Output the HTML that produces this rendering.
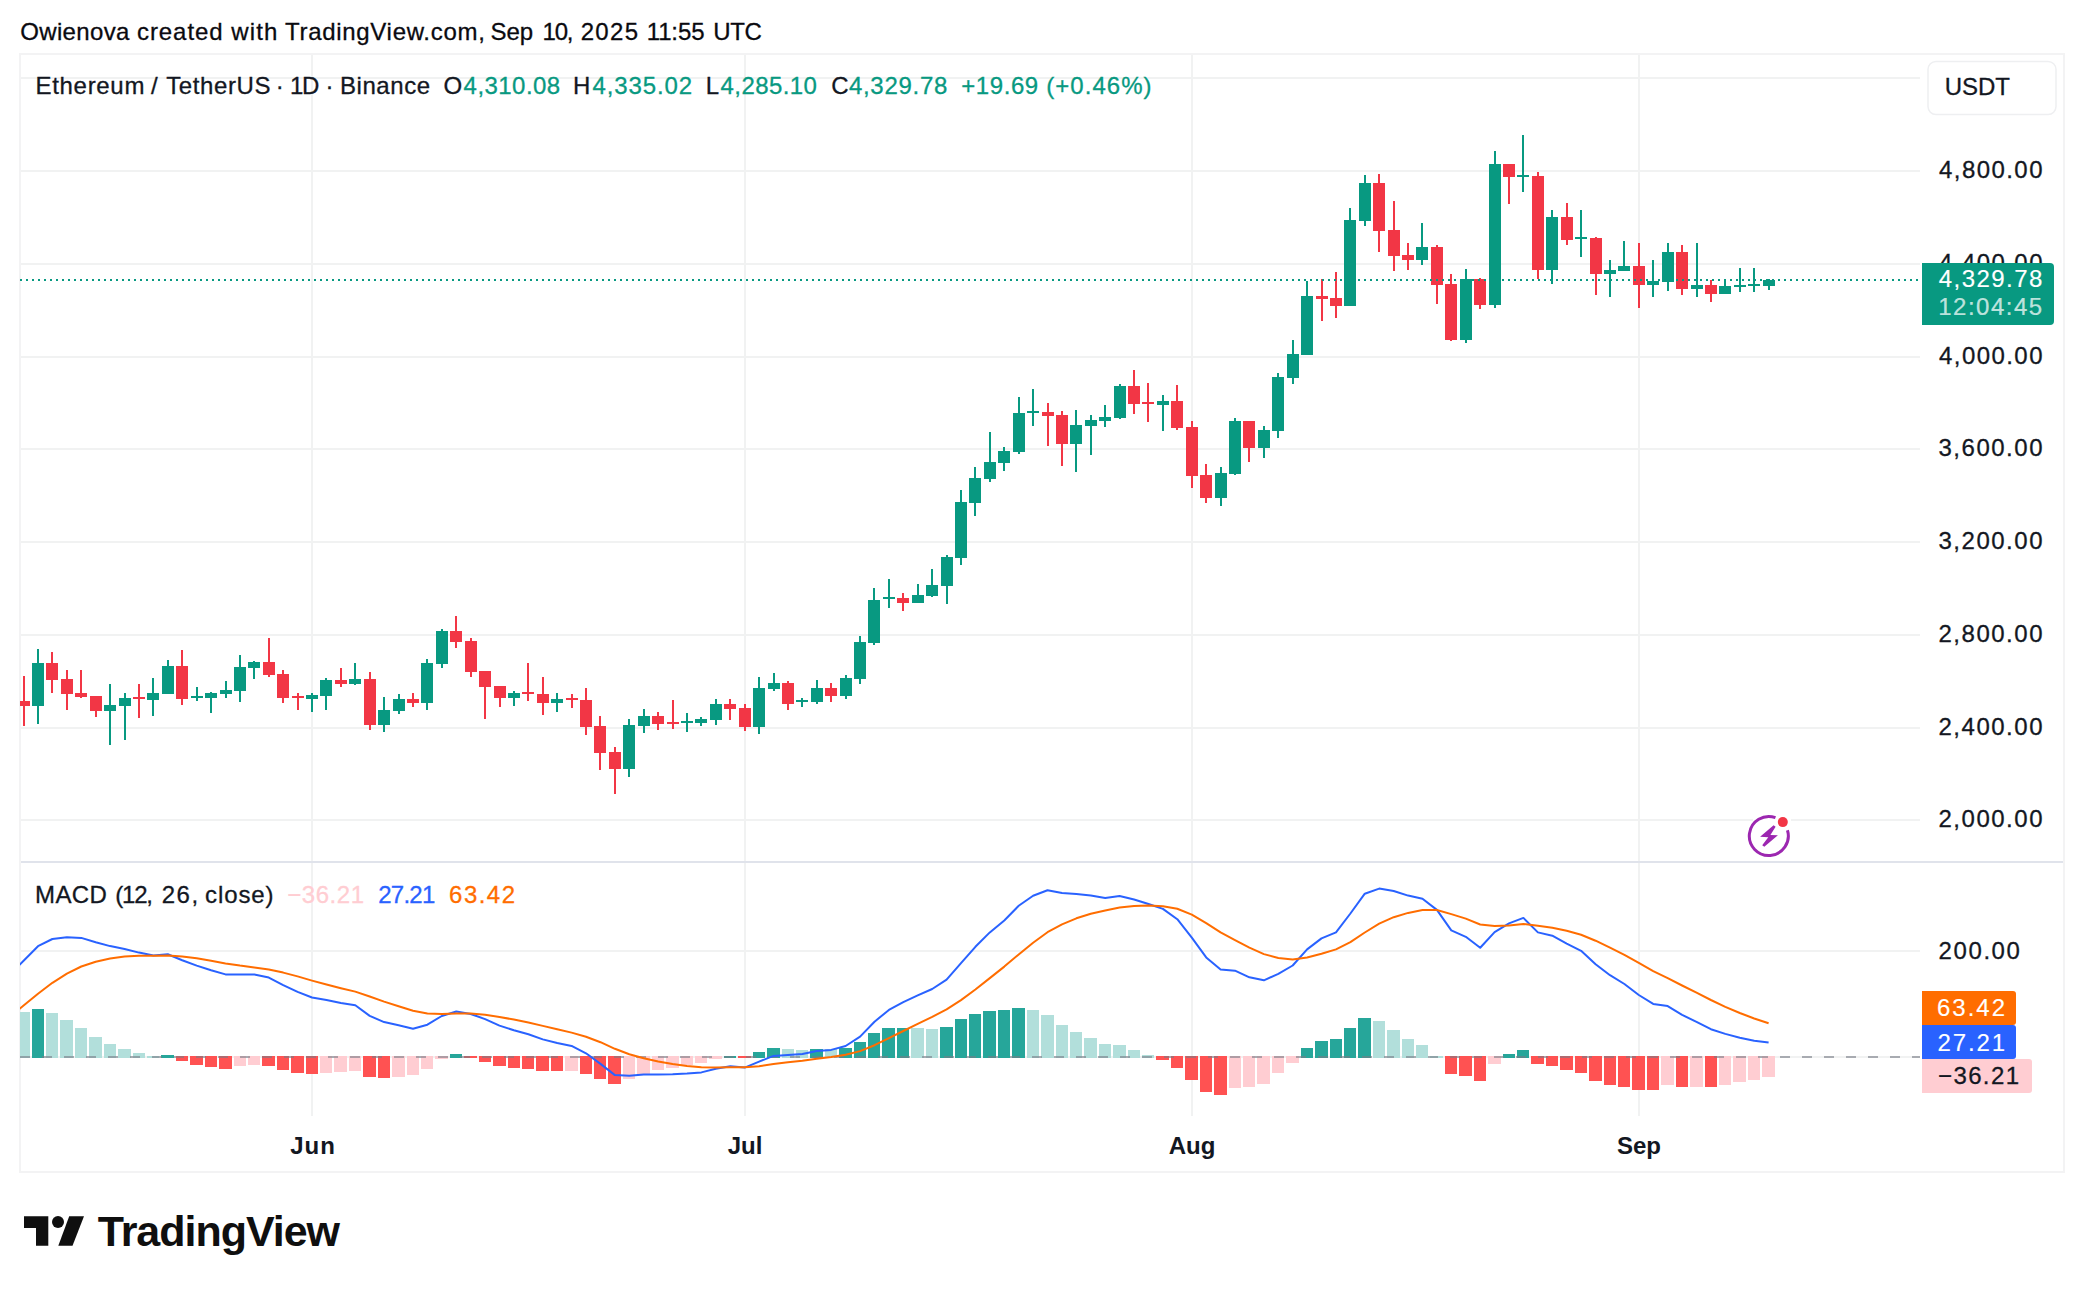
<!DOCTYPE html><html><head><meta charset="utf-8"><title>ETHUSDT chart</title>
<style>html,body{margin:0;padding:0;background:#fff}svg{display:block}text{font-family:"Liberation Sans",Arial,sans-serif}</style></head><body>
<svg width="2084" height="1292" viewBox="0 0 2084 1292">
<rect width="2084" height="1292" fill="#fff"/>
<g fill="#F1F2F2" shape-rendering="crispEdges">
<rect x="21" y="77" width="1899" height="2"/>
<rect x="21" y="170" width="1899" height="2"/>
<rect x="21" y="263" width="1899" height="2"/>
<rect x="21" y="356" width="1899" height="2"/>
<rect x="21" y="448" width="1899" height="2"/>
<rect x="21" y="541" width="1899" height="2"/>
<rect x="21" y="634" width="1899" height="2"/>
<rect x="21" y="727" width="1899" height="2"/>
<rect x="21" y="819" width="1899" height="2"/>
<rect x="21" y="950" width="1899" height="2"/>
<rect x="21" y="1056" width="1899" height="2"/>
<rect x="311" y="55" width="2" height="1061"/>
<rect x="744" y="55" width="2" height="1061"/>
<rect x="1191" y="55" width="2" height="1061"/>
<rect x="1638" y="55" width="2" height="1061"/>
</g>
<g fill="#F3F3F4" shape-rendering="crispEdges"><rect x="19" y="53" width="2046" height="2"/><rect x="19" y="1171" width="2046" height="2"/><rect x="19" y="53" width="2" height="1120"/><rect x="2063" y="53" width="2" height="1120"/></g>
<rect x="21" y="861" width="2042" height="2" fill="#E0E3EB" shape-rendering="crispEdges"/>
<defs><clipPath id="cp"><rect x="20" y="55" width="1902" height="1061"/></clipPath></defs>
<g clip-path="url(#cp)">
<g shape-rendering="crispEdges">
<rect x="17" y="1012" width="13" height="46" fill="#B2DFDB"/>
<rect x="32" y="1009" width="12" height="49" fill="#26A69A"/>
<rect x="46" y="1013" width="12" height="45" fill="#B2DFDB"/>
<rect x="60" y="1020" width="13" height="38" fill="#B2DFDB"/>
<rect x="75" y="1028" width="12" height="30" fill="#B2DFDB"/>
<rect x="89" y="1037" width="13" height="21" fill="#B2DFDB"/>
<rect x="104" y="1044" width="12" height="14" fill="#B2DFDB"/>
<rect x="118" y="1049" width="13" height="9" fill="#B2DFDB"/>
<rect x="133" y="1053" width="12" height="5" fill="#B2DFDB"/>
<rect x="147" y="1056" width="12" height="2" fill="#B2DFDB"/>
<rect x="161" y="1055" width="13" height="3" fill="#26A69A"/>
<rect x="176" y="1056" width="12" height="5" fill="#FF5252"/>
<rect x="190" y="1056" width="13" height="9" fill="#FF5252"/>
<rect x="205" y="1056" width="12" height="11" fill="#FF5252"/>
<rect x="219" y="1056" width="13" height="13" fill="#FF5252"/>
<rect x="234" y="1056" width="12" height="10" fill="#FFCDD2"/>
<rect x="248" y="1056" width="12" height="9" fill="#FFCDD2"/>
<rect x="262" y="1056" width="13" height="10" fill="#FF5252"/>
<rect x="277" y="1056" width="12" height="14" fill="#FF5252"/>
<rect x="291" y="1056" width="13" height="17" fill="#FF5252"/>
<rect x="306" y="1056" width="12" height="18" fill="#FF5252"/>
<rect x="320" y="1056" width="12" height="17" fill="#FFCDD2"/>
<rect x="334" y="1056" width="13" height="16" fill="#FFCDD2"/>
<rect x="349" y="1056" width="12" height="15" fill="#FFCDD2"/>
<rect x="363" y="1056" width="13" height="21" fill="#FF5252"/>
<rect x="378" y="1056" width="12" height="22" fill="#FF5252"/>
<rect x="392" y="1056" width="13" height="21" fill="#FFCDD2"/>
<rect x="407" y="1056" width="12" height="19" fill="#FFCDD2"/>
<rect x="421" y="1056" width="12" height="13" fill="#FFCDD2"/>
<rect x="435" y="1056" width="13" height="3" fill="#FFCDD2"/>
<rect x="450" y="1054" width="12" height="4" fill="#26A69A"/>
<rect x="464" y="1056" width="13" height="2" fill="#FF5252"/>
<rect x="479" y="1056" width="12" height="6" fill="#FF5252"/>
<rect x="493" y="1056" width="13" height="10" fill="#FF5252"/>
<rect x="508" y="1056" width="12" height="12" fill="#FF5252"/>
<rect x="522" y="1056" width="12" height="13" fill="#FF5252"/>
<rect x="536" y="1056" width="13" height="15" fill="#FF5252"/>
<rect x="551" y="1056" width="12" height="15" fill="#FF5252"/>
<rect x="565" y="1056" width="13" height="15" fill="#FFCDD2"/>
<rect x="580" y="1056" width="12" height="18" fill="#FF5252"/>
<rect x="594" y="1056" width="12" height="23" fill="#FF5252"/>
<rect x="608" y="1056" width="13" height="28" fill="#FF5252"/>
<rect x="623" y="1056" width="12" height="23" fill="#FFCDD2"/>
<rect x="637" y="1056" width="13" height="18" fill="#FFCDD2"/>
<rect x="652" y="1056" width="12" height="14" fill="#FFCDD2"/>
<rect x="666" y="1056" width="13" height="12" fill="#FFCDD2"/>
<rect x="681" y="1056" width="12" height="9" fill="#FFCDD2"/>
<rect x="695" y="1056" width="12" height="7" fill="#FFCDD2"/>
<rect x="709" y="1056" width="13" height="3" fill="#FFCDD2"/>
<rect x="724" y="1056" width="12" height="2" fill="#26A69A"/>
<rect x="738" y="1056" width="13" height="2" fill="#FF5252"/>
<rect x="753" y="1052" width="12" height="6" fill="#26A69A"/>
<rect x="767" y="1048" width="13" height="10" fill="#26A69A"/>
<rect x="782" y="1049" width="12" height="9" fill="#B2DFDB"/>
<rect x="796" y="1050" width="12" height="8" fill="#B2DFDB"/>
<rect x="810" y="1049" width="13" height="9" fill="#26A69A"/>
<rect x="825" y="1049" width="12" height="9" fill="#B2DFDB"/>
<rect x="839" y="1048" width="13" height="10" fill="#26A69A"/>
<rect x="854" y="1042" width="12" height="16" fill="#26A69A"/>
<rect x="868" y="1033" width="12" height="25" fill="#26A69A"/>
<rect x="882" y="1028" width="13" height="30" fill="#26A69A"/>
<rect x="897" y="1028" width="12" height="30" fill="#26A69A"/>
<rect x="911" y="1028" width="13" height="30" fill="#B2DFDB"/>
<rect x="926" y="1029" width="12" height="29" fill="#B2DFDB"/>
<rect x="940" y="1027" width="13" height="31" fill="#26A69A"/>
<rect x="955" y="1019" width="12" height="39" fill="#26A69A"/>
<rect x="969" y="1014" width="12" height="44" fill="#26A69A"/>
<rect x="983" y="1011" width="13" height="47" fill="#26A69A"/>
<rect x="998" y="1010" width="12" height="48" fill="#26A69A"/>
<rect x="1012" y="1008" width="13" height="50" fill="#26A69A"/>
<rect x="1027" y="1010" width="12" height="48" fill="#B2DFDB"/>
<rect x="1041" y="1015" width="13" height="43" fill="#B2DFDB"/>
<rect x="1056" y="1025" width="12" height="33" fill="#B2DFDB"/>
<rect x="1070" y="1032" width="12" height="26" fill="#B2DFDB"/>
<rect x="1084" y="1038" width="13" height="20" fill="#B2DFDB"/>
<rect x="1099" y="1044" width="12" height="14" fill="#B2DFDB"/>
<rect x="1113" y="1045" width="13" height="13" fill="#B2DFDB"/>
<rect x="1128" y="1050" width="12" height="8" fill="#B2DFDB"/>
<rect x="1142" y="1055" width="12" height="3" fill="#B2DFDB"/>
<rect x="1156" y="1056" width="13" height="4" fill="#FF5252"/>
<rect x="1171" y="1056" width="12" height="12" fill="#FF5252"/>
<rect x="1185" y="1056" width="13" height="24" fill="#FF5252"/>
<rect x="1200" y="1056" width="12" height="36" fill="#FF5252"/>
<rect x="1214" y="1056" width="13" height="39" fill="#FF5252"/>
<rect x="1229" y="1056" width="12" height="32" fill="#FFCDD2"/>
<rect x="1243" y="1056" width="12" height="31" fill="#FFCDD2"/>
<rect x="1257" y="1056" width="13" height="28" fill="#FFCDD2"/>
<rect x="1272" y="1056" width="12" height="17" fill="#FFCDD2"/>
<rect x="1286" y="1056" width="13" height="7" fill="#FFCDD2"/>
<rect x="1301" y="1048" width="12" height="10" fill="#26A69A"/>
<rect x="1315" y="1041" width="13" height="17" fill="#26A69A"/>
<rect x="1330" y="1039" width="12" height="19" fill="#26A69A"/>
<rect x="1344" y="1028" width="12" height="30" fill="#26A69A"/>
<rect x="1358" y="1018" width="13" height="40" fill="#26A69A"/>
<rect x="1373" y="1021" width="12" height="37" fill="#B2DFDB"/>
<rect x="1387" y="1030" width="13" height="28" fill="#B2DFDB"/>
<rect x="1402" y="1039" width="12" height="19" fill="#B2DFDB"/>
<rect x="1416" y="1045" width="12" height="13" fill="#B2DFDB"/>
<rect x="1430" y="1056" width="13" height="2" fill="#B2DFDB"/>
<rect x="1445" y="1056" width="12" height="18" fill="#FF5252"/>
<rect x="1459" y="1056" width="13" height="20" fill="#FF5252"/>
<rect x="1474" y="1056" width="12" height="25" fill="#FF5252"/>
<rect x="1488" y="1056" width="13" height="8" fill="#FFCDD2"/>
<rect x="1503" y="1054" width="12" height="4" fill="#26A69A"/>
<rect x="1517" y="1050" width="12" height="8" fill="#26A69A"/>
<rect x="1531" y="1056" width="13" height="8" fill="#FF5252"/>
<rect x="1546" y="1056" width="12" height="10" fill="#FF5252"/>
<rect x="1560" y="1056" width="13" height="14" fill="#FF5252"/>
<rect x="1575" y="1056" width="12" height="17" fill="#FF5252"/>
<rect x="1589" y="1056" width="13" height="25" fill="#FF5252"/>
<rect x="1604" y="1056" width="12" height="29" fill="#FF5252"/>
<rect x="1618" y="1056" width="12" height="31" fill="#FF5252"/>
<rect x="1632" y="1056" width="13" height="34" fill="#FF5252"/>
<rect x="1647" y="1056" width="12" height="34" fill="#FF5252"/>
<rect x="1661" y="1056" width="13" height="29" fill="#FFCDD2"/>
<rect x="1676" y="1056" width="12" height="31" fill="#FF5252"/>
<rect x="1690" y="1056" width="13" height="31" fill="#FFCDD2"/>
<rect x="1705" y="1056" width="12" height="31" fill="#FF5252"/>
<rect x="1719" y="1056" width="12" height="29" fill="#FFCDD2"/>
<rect x="1733" y="1056" width="13" height="26" fill="#FFCDD2"/>
<rect x="1748" y="1056" width="12" height="24" fill="#FFCDD2"/>
<rect x="1762" y="1056" width="13" height="21" fill="#FFCDD2"/>
</g>
<g fill="#787B86" fill-opacity="0.6" shape-rendering="crispEdges">
<rect x="20" y="1056" width="10" height="2"/>
<rect x="42" y="1056" width="10" height="2"/>
<rect x="64" y="1056" width="10" height="2"/>
<rect x="86" y="1056" width="10" height="2"/>
<rect x="108" y="1056" width="10" height="2"/>
<rect x="130" y="1056" width="10" height="2"/>
<rect x="152" y="1056" width="10" height="2"/>
<rect x="174" y="1056" width="10" height="2"/>
<rect x="196" y="1056" width="10" height="2"/>
<rect x="218" y="1056" width="10" height="2"/>
<rect x="240" y="1056" width="10" height="2"/>
<rect x="262" y="1056" width="10" height="2"/>
<rect x="284" y="1056" width="10" height="2"/>
<rect x="306" y="1056" width="10" height="2"/>
<rect x="328" y="1056" width="10" height="2"/>
<rect x="350" y="1056" width="10" height="2"/>
<rect x="372" y="1056" width="10" height="2"/>
<rect x="394" y="1056" width="10" height="2"/>
<rect x="416" y="1056" width="10" height="2"/>
<rect x="438" y="1056" width="10" height="2"/>
<rect x="460" y="1056" width="10" height="2"/>
<rect x="482" y="1056" width="10" height="2"/>
<rect x="504" y="1056" width="10" height="2"/>
<rect x="526" y="1056" width="10" height="2"/>
<rect x="548" y="1056" width="10" height="2"/>
<rect x="570" y="1056" width="10" height="2"/>
<rect x="592" y="1056" width="10" height="2"/>
<rect x="614" y="1056" width="10" height="2"/>
<rect x="636" y="1056" width="10" height="2"/>
<rect x="658" y="1056" width="10" height="2"/>
<rect x="680" y="1056" width="10" height="2"/>
<rect x="702" y="1056" width="10" height="2"/>
<rect x="724" y="1056" width="10" height="2"/>
<rect x="746" y="1056" width="10" height="2"/>
<rect x="768" y="1056" width="10" height="2"/>
<rect x="790" y="1056" width="10" height="2"/>
<rect x="812" y="1056" width="10" height="2"/>
<rect x="834" y="1056" width="10" height="2"/>
<rect x="856" y="1056" width="10" height="2"/>
<rect x="878" y="1056" width="10" height="2"/>
<rect x="900" y="1056" width="10" height="2"/>
<rect x="922" y="1056" width="10" height="2"/>
<rect x="944" y="1056" width="10" height="2"/>
<rect x="966" y="1056" width="10" height="2"/>
<rect x="988" y="1056" width="10" height="2"/>
<rect x="1010" y="1056" width="10" height="2"/>
<rect x="1032" y="1056" width="10" height="2"/>
<rect x="1054" y="1056" width="10" height="2"/>
<rect x="1076" y="1056" width="10" height="2"/>
<rect x="1098" y="1056" width="10" height="2"/>
<rect x="1120" y="1056" width="10" height="2"/>
<rect x="1142" y="1056" width="10" height="2"/>
<rect x="1164" y="1056" width="10" height="2"/>
<rect x="1186" y="1056" width="10" height="2"/>
<rect x="1208" y="1056" width="10" height="2"/>
<rect x="1230" y="1056" width="10" height="2"/>
<rect x="1252" y="1056" width="10" height="2"/>
<rect x="1274" y="1056" width="10" height="2"/>
<rect x="1296" y="1056" width="10" height="2"/>
<rect x="1318" y="1056" width="10" height="2"/>
<rect x="1340" y="1056" width="10" height="2"/>
<rect x="1362" y="1056" width="10" height="2"/>
<rect x="1384" y="1056" width="10" height="2"/>
<rect x="1406" y="1056" width="10" height="2"/>
<rect x="1428" y="1056" width="10" height="2"/>
<rect x="1450" y="1056" width="10" height="2"/>
<rect x="1472" y="1056" width="10" height="2"/>
<rect x="1494" y="1056" width="10" height="2"/>
<rect x="1516" y="1056" width="10" height="2"/>
<rect x="1538" y="1056" width="10" height="2"/>
<rect x="1560" y="1056" width="10" height="2"/>
<rect x="1582" y="1056" width="10" height="2"/>
<rect x="1604" y="1056" width="10" height="2"/>
<rect x="1626" y="1056" width="10" height="2"/>
<rect x="1648" y="1056" width="10" height="2"/>
<rect x="1670" y="1056" width="10" height="2"/>
<rect x="1692" y="1056" width="10" height="2"/>
<rect x="1714" y="1056" width="10" height="2"/>
<rect x="1736" y="1056" width="10" height="2"/>
<rect x="1758" y="1056" width="10" height="2"/>
<rect x="1780" y="1056" width="10" height="2"/>
<rect x="1802" y="1056" width="10" height="2"/>
<rect x="1824" y="1056" width="10" height="2"/>
<rect x="1846" y="1056" width="10" height="2"/>
<rect x="1868" y="1056" width="10" height="2"/>
<rect x="1890" y="1056" width="10" height="2"/>
<rect x="1912" y="1056" width="8" height="2"/>
</g>
<path d="M9.2 975.3L23.6 960.7L38.0 946.2L52.4 939.0L66.9 937.3L81.3 937.9L95.7 942.2L110.1 946.1L124.6 949.0L139.0 952.6L153.4 955.6L167.8 954.3L182.2 960.2L196.7 965.6L211.1 970.3L225.5 974.4L239.9 974.4L254.3 974.4L268.8 977.6L283.2 985.1L297.6 991.9L312.0 997.5L326.5 999.9L340.9 1003.0L355.3 1005.3L369.7 1015.9L384.1 1022.1L398.6 1025.3L413.0 1028.8L427.4 1024.7L441.8 1016.0L456.3 1011.5L470.7 1014.0L485.1 1019.1L499.5 1025.6L513.9 1030.3L528.4 1034.3L542.8 1039.4L557.2 1043.0L571.6 1045.9L586.0 1053.3L600.5 1063.9L614.9 1075.1L629.3 1075.7L643.7 1074.4L658.2 1074.4L672.6 1074.2L687.0 1073.5L701.4 1072.4L715.8 1068.7L730.3 1066.3L744.7 1067.6L759.1 1061.6L773.5 1055.9L787.9 1055.1L802.4 1054.0L816.8 1050.9L831.2 1049.9L845.6 1046.0L860.1 1036.6L874.5 1021.7L888.9 1009.9L903.3 1002.1L917.7 995.4L932.2 989.0L946.6 979.6L961.0 963.1L975.4 946.8L989.8 932.4L1004.3 920.5L1018.7 905.8L1033.1 895.7L1047.5 890.3L1062.0 893.1L1076.4 893.9L1090.8 895.4L1105.2 897.9L1119.6 896.0L1134.1 899.5L1148.5 904.0L1162.9 908.9L1177.3 919.2L1191.8 937.6L1206.2 957.4L1220.6 969.6L1235.0 970.7L1249.4 977.3L1263.9 980.3L1278.3 973.8L1292.7 965.5L1307.1 949.4L1321.5 938.4L1336.0 932.4L1350.4 913.5L1364.8 893.7L1379.2 888.6L1393.7 891.0L1408.1 895.6L1422.5 898.8L1436.9 909.9L1451.3 930.3L1465.8 936.8L1480.2 947.8L1494.6 932.1L1509.0 923.4L1523.4 917.9L1537.9 932.4L1552.3 935.7L1566.7 943.6L1581.1 950.8L1595.6 964.2L1610.0 975.2L1624.4 984.0L1638.8 995.0L1653.2 1003.9L1667.7 1006.1L1682.1 1014.9L1696.5 1021.8L1710.9 1029.2L1725.3 1033.9L1739.8 1037.7L1754.2 1040.7L1768.6 1042.5" fill="none" stroke="#2962FF" stroke-width="2" stroke-linejoin="round"/>
<path d="M9.2 1017.4L23.6 1005.6L38.0 993.7L52.4 982.8L66.9 973.7L81.3 966.5L95.7 961.7L110.1 958.5L124.6 956.6L139.0 955.8L153.4 955.8L167.8 955.5L182.2 956.4L196.7 958.3L211.1 960.7L225.5 963.4L239.9 965.6L254.3 967.4L268.8 969.4L283.2 972.6L297.6 976.4L312.0 980.6L326.5 984.5L340.9 988.2L355.3 991.6L369.7 996.5L384.1 1001.6L398.6 1006.3L413.0 1010.8L427.4 1013.6L441.8 1014.1L456.3 1013.6L470.7 1013.6L485.1 1014.7L499.5 1016.9L513.9 1019.6L528.4 1022.5L542.8 1025.9L557.2 1029.3L571.6 1032.6L586.0 1036.8L600.5 1042.2L614.9 1048.8L629.3 1054.2L643.7 1058.2L658.2 1061.4L672.6 1064.0L687.0 1065.9L701.4 1067.2L715.8 1067.5L730.3 1067.3L744.7 1067.3L759.1 1066.2L773.5 1064.1L787.9 1062.3L802.4 1060.7L816.8 1058.7L831.2 1057.0L845.6 1054.8L860.1 1051.1L874.5 1045.2L888.9 1038.2L903.3 1031.0L917.7 1023.9L932.2 1016.9L946.6 1009.4L961.0 1000.1L975.4 989.5L989.8 978.1L1004.3 966.6L1018.7 954.4L1033.1 942.7L1047.5 932.2L1062.0 924.4L1076.4 918.3L1090.8 913.7L1105.2 910.5L1119.6 907.6L1134.1 906.0L1148.5 905.6L1162.9 906.3L1177.3 908.8L1191.8 914.6L1206.2 923.1L1220.6 932.4L1235.0 940.1L1249.4 947.6L1263.9 954.1L1278.3 958.0L1292.7 959.5L1307.1 957.5L1321.5 953.7L1336.0 949.4L1350.4 942.2L1364.8 932.5L1379.2 923.7L1393.7 917.2L1408.1 912.9L1422.5 910.1L1436.9 910.0L1451.3 914.1L1465.8 918.6L1480.2 924.5L1494.6 926.0L1509.0 925.5L1523.4 924.0L1537.9 925.7L1552.3 927.7L1566.7 930.8L1581.1 934.8L1595.6 940.7L1610.0 947.6L1624.4 954.9L1638.8 962.9L1653.2 971.1L1667.7 978.1L1682.1 985.5L1696.5 992.7L1710.9 1000.0L1725.3 1006.8L1739.8 1013.0L1754.2 1018.5L1768.6 1023.3" fill="none" stroke="#FF6D00" stroke-width="2" stroke-linejoin="round"/>
<g fill="#089981" shape-rendering="crispEdges">
</g>
<g shape-rendering="crispEdges">
<rect x="23" y="676" width="2" height="50" fill="#F23645"/><rect x="18" y="701" width="12" height="5" fill="#F23645"/>
<rect x="37" y="649" width="2" height="75" fill="#089981"/><rect x="32" y="663" width="12" height="43" fill="#089981"/>
<rect x="51" y="652" width="2" height="41" fill="#F23645"/><rect x="46" y="663" width="12" height="17" fill="#F23645"/>
<rect x="66" y="670" width="2" height="40" fill="#F23645"/><rect x="61" y="679" width="12" height="15" fill="#F23645"/>
<rect x="80" y="670" width="2" height="28" fill="#F23645"/><rect x="75" y="693" width="12" height="4" fill="#F23645"/>
<rect x="95" y="696" width="2" height="21" fill="#F23645"/><rect x="90" y="696" width="12" height="15" fill="#F23645"/>
<rect x="109" y="684" width="2" height="61" fill="#089981"/><rect x="104" y="705" width="12" height="6" fill="#089981"/>
<rect x="124" y="693" width="2" height="47" fill="#089981"/><rect x="119" y="698" width="12" height="8" fill="#089981"/>
<rect x="138" y="684" width="2" height="34" fill="#F23645"/><rect x="133" y="697" width="12" height="2" fill="#F23645"/>
<rect x="152" y="678" width="2" height="38" fill="#089981"/><rect x="147" y="693" width="12" height="7" fill="#089981"/>
<rect x="167" y="660" width="2" height="34" fill="#089981"/><rect x="162" y="666" width="12" height="28" fill="#089981"/>
<rect x="181" y="650" width="2" height="55" fill="#F23645"/><rect x="176" y="666" width="12" height="33" fill="#F23645"/>
<rect x="196" y="687" width="2" height="14" fill="#089981"/><rect x="191" y="696" width="12" height="2" fill="#089981"/>
<rect x="210" y="692" width="2" height="21" fill="#089981"/><rect x="205" y="693" width="12" height="5" fill="#089981"/>
<rect x="225" y="681" width="2" height="17" fill="#089981"/><rect x="220" y="690" width="12" height="4" fill="#089981"/>
<rect x="239" y="655" width="2" height="47" fill="#089981"/><rect x="234" y="667" width="12" height="24" fill="#089981"/>
<rect x="253" y="661" width="2" height="18" fill="#089981"/><rect x="248" y="662" width="12" height="6" fill="#089981"/>
<rect x="268" y="638" width="2" height="39" fill="#F23645"/><rect x="263" y="662" width="12" height="13" fill="#F23645"/>
<rect x="282" y="670" width="2" height="33" fill="#F23645"/><rect x="277" y="674" width="12" height="24" fill="#F23645"/>
<rect x="297" y="693" width="2" height="17" fill="#F23645"/><rect x="292" y="696" width="12" height="2" fill="#F23645"/>
<rect x="311" y="693" width="2" height="19" fill="#089981"/><rect x="306" y="695" width="12" height="4" fill="#089981"/>
<rect x="325" y="678" width="2" height="32" fill="#089981"/><rect x="320" y="680" width="12" height="16" fill="#089981"/>
<rect x="340" y="668" width="2" height="19" fill="#F23645"/><rect x="335" y="680" width="12" height="4" fill="#F23645"/>
<rect x="354" y="663" width="2" height="22" fill="#089981"/><rect x="349" y="679" width="12" height="5" fill="#089981"/>
<rect x="369" y="672" width="2" height="58" fill="#F23645"/><rect x="364" y="679" width="12" height="46" fill="#F23645"/>
<rect x="383" y="697" width="2" height="35" fill="#089981"/><rect x="378" y="710" width="12" height="15" fill="#089981"/>
<rect x="398" y="694" width="2" height="20" fill="#089981"/><rect x="393" y="699" width="12" height="12" fill="#089981"/>
<rect x="412" y="693" width="2" height="14" fill="#F23645"/><rect x="407" y="699" width="12" height="4" fill="#F23645"/>
<rect x="426" y="659" width="2" height="51" fill="#089981"/><rect x="421" y="663" width="12" height="40" fill="#089981"/>
<rect x="441" y="629" width="2" height="39" fill="#089981"/><rect x="436" y="631" width="12" height="33" fill="#089981"/>
<rect x="455" y="616" width="2" height="32" fill="#F23645"/><rect x="450" y="631" width="12" height="11" fill="#F23645"/>
<rect x="470" y="638" width="2" height="39" fill="#F23645"/><rect x="465" y="641" width="12" height="31" fill="#F23645"/>
<rect x="484" y="671" width="2" height="48" fill="#F23645"/><rect x="479" y="671" width="12" height="16" fill="#F23645"/>
<rect x="499" y="686" width="2" height="21" fill="#F23645"/><rect x="494" y="686" width="12" height="12" fill="#F23645"/>
<rect x="513" y="691" width="2" height="15" fill="#089981"/><rect x="508" y="693" width="12" height="5" fill="#089981"/>
<rect x="527" y="663" width="2" height="38" fill="#F23645"/><rect x="522" y="692" width="12" height="2" fill="#F23645"/>
<rect x="542" y="677" width="2" height="38" fill="#F23645"/><rect x="537" y="694" width="12" height="9" fill="#F23645"/>
<rect x="556" y="693" width="2" height="19" fill="#089981"/><rect x="551" y="699" width="12" height="4" fill="#089981"/>
<rect x="571" y="694" width="2" height="14" fill="#F23645"/><rect x="566" y="698" width="12" height="2" fill="#F23645"/>
<rect x="585" y="688" width="2" height="47" fill="#F23645"/><rect x="580" y="700" width="12" height="27" fill="#F23645"/>
<rect x="599" y="716" width="2" height="54" fill="#F23645"/><rect x="594" y="726" width="12" height="27" fill="#F23645"/>
<rect x="614" y="747" width="2" height="47" fill="#F23645"/><rect x="609" y="752" width="12" height="17" fill="#F23645"/>
<rect x="628" y="719" width="2" height="58" fill="#089981"/><rect x="623" y="725" width="12" height="44" fill="#089981"/>
<rect x="643" y="709" width="2" height="24" fill="#089981"/><rect x="638" y="716" width="12" height="10" fill="#089981"/>
<rect x="657" y="712" width="2" height="18" fill="#F23645"/><rect x="652" y="716" width="12" height="8" fill="#F23645"/>
<rect x="672" y="700" width="2" height="29" fill="#F23645"/><rect x="667" y="722" width="12" height="2" fill="#F23645"/>
<rect x="686" y="713" width="2" height="19" fill="#089981"/><rect x="681" y="721" width="12" height="2" fill="#089981"/>
<rect x="700" y="717" width="2" height="9" fill="#089981"/><rect x="695" y="719" width="12" height="4" fill="#089981"/>
<rect x="715" y="699" width="2" height="26" fill="#089981"/><rect x="710" y="704" width="12" height="16" fill="#089981"/>
<rect x="729" y="699" width="2" height="21" fill="#F23645"/><rect x="724" y="704" width="12" height="5" fill="#F23645"/>
<rect x="744" y="704" width="2" height="27" fill="#F23645"/><rect x="739" y="708" width="12" height="19" fill="#F23645"/>
<rect x="758" y="677" width="2" height="57" fill="#089981"/><rect x="753" y="688" width="12" height="39" fill="#089981"/>
<rect x="773" y="673" width="2" height="18" fill="#089981"/><rect x="768" y="683" width="12" height="6" fill="#089981"/>
<rect x="787" y="681" width="2" height="29" fill="#F23645"/><rect x="782" y="683" width="12" height="21" fill="#F23645"/>
<rect x="801" y="698" width="2" height="9" fill="#089981"/><rect x="796" y="700" width="12" height="2" fill="#089981"/>
<rect x="816" y="680" width="2" height="24" fill="#089981"/><rect x="811" y="688" width="12" height="14" fill="#089981"/>
<rect x="830" y="683" width="2" height="19" fill="#F23645"/><rect x="825" y="688" width="12" height="8" fill="#F23645"/>
<rect x="845" y="675" width="2" height="24" fill="#089981"/><rect x="840" y="678" width="12" height="18" fill="#089981"/>
<rect x="859" y="636" width="2" height="48" fill="#089981"/><rect x="854" y="642" width="12" height="37" fill="#089981"/>
<rect x="873" y="588" width="2" height="57" fill="#089981"/><rect x="868" y="600" width="12" height="43" fill="#089981"/>
<rect x="888" y="579" width="2" height="29" fill="#089981"/><rect x="883" y="597" width="12" height="2" fill="#089981"/>
<rect x="902" y="593" width="2" height="18" fill="#F23645"/><rect x="897" y="598" width="12" height="5" fill="#F23645"/>
<rect x="917" y="584" width="2" height="19" fill="#089981"/><rect x="912" y="595" width="12" height="8" fill="#089981"/>
<rect x="931" y="569" width="2" height="28" fill="#089981"/><rect x="926" y="585" width="12" height="11" fill="#089981"/>
<rect x="946" y="555" width="2" height="49" fill="#089981"/><rect x="941" y="557" width="12" height="29" fill="#089981"/>
<rect x="960" y="490" width="2" height="75" fill="#089981"/><rect x="955" y="502" width="12" height="56" fill="#089981"/>
<rect x="974" y="467" width="2" height="49" fill="#089981"/><rect x="969" y="478" width="12" height="25" fill="#089981"/>
<rect x="989" y="432" width="2" height="50" fill="#089981"/><rect x="984" y="462" width="12" height="17" fill="#089981"/>
<rect x="1003" y="447" width="2" height="24" fill="#089981"/><rect x="998" y="451" width="12" height="12" fill="#089981"/>
<rect x="1018" y="397" width="2" height="57" fill="#089981"/><rect x="1013" y="413" width="12" height="39" fill="#089981"/>
<rect x="1032" y="389" width="2" height="37" fill="#089981"/><rect x="1027" y="411" width="12" height="2" fill="#089981"/>
<rect x="1047" y="403" width="2" height="43" fill="#F23645"/><rect x="1042" y="412" width="12" height="4" fill="#F23645"/>
<rect x="1061" y="411" width="2" height="55" fill="#F23645"/><rect x="1056" y="415" width="12" height="29" fill="#F23645"/>
<rect x="1075" y="410" width="2" height="62" fill="#089981"/><rect x="1070" y="425" width="12" height="19" fill="#089981"/>
<rect x="1090" y="415" width="2" height="40" fill="#089981"/><rect x="1085" y="420" width="12" height="6" fill="#089981"/>
<rect x="1104" y="405" width="2" height="22" fill="#089981"/><rect x="1099" y="417" width="12" height="4" fill="#089981"/>
<rect x="1119" y="384" width="2" height="35" fill="#089981"/><rect x="1114" y="386" width="12" height="32" fill="#089981"/>
<rect x="1133" y="370" width="2" height="44" fill="#F23645"/><rect x="1128" y="386" width="12" height="18" fill="#F23645"/>
<rect x="1147" y="383" width="2" height="39" fill="#F23645"/><rect x="1142" y="402" width="12" height="2" fill="#F23645"/>
<rect x="1162" y="395" width="2" height="36" fill="#089981"/><rect x="1157" y="401" width="12" height="4" fill="#089981"/>
<rect x="1176" y="385" width="2" height="45" fill="#F23645"/><rect x="1171" y="401" width="12" height="27" fill="#F23645"/>
<rect x="1191" y="421" width="2" height="67" fill="#F23645"/><rect x="1186" y="427" width="12" height="49" fill="#F23645"/>
<rect x="1205" y="464" width="2" height="39" fill="#F23645"/><rect x="1200" y="475" width="12" height="23" fill="#F23645"/>
<rect x="1220" y="467" width="2" height="39" fill="#089981"/><rect x="1215" y="473" width="12" height="25" fill="#089981"/>
<rect x="1234" y="418" width="2" height="57" fill="#089981"/><rect x="1229" y="421" width="12" height="53" fill="#089981"/>
<rect x="1248" y="421" width="2" height="41" fill="#F23645"/><rect x="1243" y="421" width="12" height="27" fill="#F23645"/>
<rect x="1263" y="426" width="2" height="32" fill="#089981"/><rect x="1258" y="430" width="12" height="18" fill="#089981"/>
<rect x="1277" y="373" width="2" height="65" fill="#089981"/><rect x="1272" y="377" width="12" height="54" fill="#089981"/>
<rect x="1292" y="340" width="2" height="44" fill="#089981"/><rect x="1287" y="354" width="12" height="24" fill="#089981"/>
<rect x="1306" y="281" width="2" height="74" fill="#089981"/><rect x="1301" y="296" width="12" height="59" fill="#089981"/>
<rect x="1321" y="279" width="2" height="42" fill="#F23645"/><rect x="1316" y="296" width="12" height="3" fill="#F23645"/>
<rect x="1335" y="272" width="2" height="46" fill="#F23645"/><rect x="1330" y="298" width="12" height="8" fill="#F23645"/>
<rect x="1349" y="208" width="2" height="98" fill="#089981"/><rect x="1344" y="220" width="12" height="86" fill="#089981"/>
<rect x="1364" y="175" width="2" height="51" fill="#089981"/><rect x="1359" y="183" width="12" height="38" fill="#089981"/>
<rect x="1378" y="174" width="2" height="78" fill="#F23645"/><rect x="1373" y="183" width="12" height="48" fill="#F23645"/>
<rect x="1393" y="201" width="2" height="70" fill="#F23645"/><rect x="1388" y="230" width="12" height="26" fill="#F23645"/>
<rect x="1407" y="243" width="2" height="27" fill="#F23645"/><rect x="1402" y="255" width="12" height="5" fill="#F23645"/>
<rect x="1421" y="223" width="2" height="42" fill="#089981"/><rect x="1416" y="247" width="12" height="13" fill="#089981"/>
<rect x="1436" y="245" width="2" height="59" fill="#F23645"/><rect x="1431" y="247" width="12" height="38" fill="#F23645"/>
<rect x="1450" y="274" width="2" height="67" fill="#F23645"/><rect x="1445" y="284" width="12" height="56" fill="#F23645"/>
<rect x="1465" y="269" width="2" height="74" fill="#089981"/><rect x="1460" y="279" width="12" height="61" fill="#089981"/>
<rect x="1479" y="278" width="2" height="31" fill="#F23645"/><rect x="1474" y="279" width="12" height="26" fill="#F23645"/>
<rect x="1494" y="151" width="2" height="157" fill="#089981"/><rect x="1489" y="164" width="12" height="141" fill="#089981"/>
<rect x="1508" y="164" width="2" height="40" fill="#F23645"/><rect x="1503" y="164" width="12" height="13" fill="#F23645"/>
<rect x="1522" y="135" width="2" height="57" fill="#089981"/><rect x="1517" y="175" width="12" height="2" fill="#089981"/>
<rect x="1537" y="172" width="2" height="107" fill="#F23645"/><rect x="1532" y="176" width="12" height="94" fill="#F23645"/>
<rect x="1551" y="210" width="2" height="74" fill="#089981"/><rect x="1546" y="217" width="12" height="53" fill="#089981"/>
<rect x="1566" y="203" width="2" height="42" fill="#F23645"/><rect x="1561" y="217" width="12" height="23" fill="#F23645"/>
<rect x="1580" y="210" width="2" height="47" fill="#089981"/><rect x="1575" y="237" width="12" height="2" fill="#089981"/>
<rect x="1595" y="237" width="2" height="58" fill="#F23645"/><rect x="1590" y="238" width="12" height="36" fill="#F23645"/>
<rect x="1609" y="260" width="2" height="37" fill="#089981"/><rect x="1604" y="270" width="12" height="4" fill="#089981"/>
<rect x="1623" y="241" width="2" height="30" fill="#089981"/><rect x="1618" y="266" width="12" height="5" fill="#089981"/>
<rect x="1638" y="243" width="2" height="65" fill="#F23645"/><rect x="1633" y="266" width="12" height="19" fill="#F23645"/>
<rect x="1652" y="260" width="2" height="37" fill="#089981"/><rect x="1647" y="281" width="12" height="4" fill="#089981"/>
<rect x="1667" y="243" width="2" height="48" fill="#089981"/><rect x="1662" y="252" width="12" height="30" fill="#089981"/>
<rect x="1681" y="245" width="2" height="50" fill="#F23645"/><rect x="1676" y="252" width="12" height="37" fill="#F23645"/>
<rect x="1696" y="243" width="2" height="54" fill="#089981"/><rect x="1691" y="285" width="12" height="4" fill="#089981"/>
<rect x="1710" y="280" width="2" height="22" fill="#F23645"/><rect x="1705" y="285" width="12" height="9" fill="#F23645"/>
<rect x="1724" y="279" width="2" height="15" fill="#089981"/><rect x="1719" y="286" width="12" height="8" fill="#089981"/>
<rect x="1739" y="268" width="2" height="24" fill="#089981"/><rect x="1734" y="285" width="12" height="2" fill="#089981"/>
<rect x="1753" y="268" width="2" height="24" fill="#089981"/><rect x="1748" y="284" width="12" height="2" fill="#089981"/>
<rect x="1768" y="279" width="2" height="11" fill="#089981"/><rect x="1763" y="280" width="12" height="6" fill="#089981"/>
</g>
<line x1="20" y1="280" x2="1922" y2="280" stroke="#089981" stroke-width="2" stroke-dasharray="2 4" shape-rendering="crispEdges"/>
</g>
<g><rect x="1753" y="816" width="38" height="8" fill="#fff"/>
<path d="M1787.45 830.30A19.5 19.5 0 1 1 1775.47 817.68" fill="none" stroke="#9C27B0" stroke-width="3"/>
<polygon points="1773.6,825.2 1775.6,826.8 1770.4,834.9 1777.9,835.2 1764.3,846.8 1762.2,845.2 1768.3,837.3 1760.1,836.7" fill="#9C27B0"/>
<circle cx="1782.8" cy="822.1" r="5" fill="#F23645"/></g>
<text x="35.50" y="94.1" font-size="24" fill="#131722" stroke="#131722" stroke-width="0.3" textLength="108.90" lengthAdjust="spacing">Ethereum</text>
<text x="151.00" y="94.1" font-size="24" fill="#131722" stroke="#131722" stroke-width="0.3">/</text>
<text x="166.30" y="94.1" font-size="24" fill="#131722" stroke="#131722" stroke-width="0.3" textLength="104.10" lengthAdjust="spacing">TetherUS</text>
<text x="275.70" y="94.1" font-size="24" fill="#131722" stroke="#131722" stroke-width="0.3">·</text>
<text x="289.90" y="94.1" font-size="24" fill="#131722" stroke="#131722" stroke-width="0.3" textLength="29.40" lengthAdjust="spacing">1D</text>
<text x="325.50" y="94.1" font-size="24" fill="#131722" stroke="#131722" stroke-width="0.3">·</text>
<text x="339.90" y="94.1" font-size="24" fill="#131722" stroke="#131722" stroke-width="0.3" textLength="90.30" lengthAdjust="spacing">Binance</text>
<text x="443.50" y="94.1" font-size="24" fill="#131722" stroke="#131722" stroke-width="0.3">O</text>
<text x="463.60" y="94.1" font-size="24" fill="#089981" stroke="#089981" stroke-width="0.3" textLength="96.60" lengthAdjust="spacing">4,310.08</text>
<text x="573.00" y="94.1" font-size="24" fill="#131722" stroke="#131722" stroke-width="0.3">H</text>
<text x="592.60" y="94.1" font-size="24" fill="#089981" stroke="#089981" stroke-width="0.3" textLength="99.60" lengthAdjust="spacing">4,335.02</text>
<text x="705.80" y="94.1" font-size="24" fill="#131722" stroke="#131722" stroke-width="0.3">L</text>
<text x="720.60" y="94.1" font-size="24" fill="#089981" stroke="#089981" stroke-width="0.3" textLength="96.30" lengthAdjust="spacing">4,285.10</text>
<text x="831.30" y="94.1" font-size="24" fill="#131722" stroke="#131722" stroke-width="0.3">C</text>
<text x="848.90" y="94.1" font-size="24" fill="#089981" stroke="#089981" stroke-width="0.3" textLength="98.50" lengthAdjust="spacing">4,329.78</text>
<text x="961.20" y="94.1" font-size="24" fill="#089981" stroke="#089981" stroke-width="0.3" textLength="77.00" lengthAdjust="spacing">+19.69</text>
<text x="1046.20" y="94.1" font-size="24" fill="#089981" stroke="#089981" stroke-width="0.3" textLength="105.40" lengthAdjust="spacing">(+0.46%)</text>
<text x="35.00" y="902.9" font-size="24" fill="#131722" stroke="#131722" stroke-width="0.3" textLength="71.90" lengthAdjust="spacing">MACD</text>
<text x="115.20" y="902.9" font-size="24" fill="#131722" stroke="#131722" stroke-width="0.3" textLength="37.80" lengthAdjust="spacing">(12,</text>
<text x="161.80" y="902.9" font-size="24" fill="#131722" stroke="#131722" stroke-width="0.3" textLength="36.30" lengthAdjust="spacing">26,</text>
<text x="205.10" y="902.9" font-size="24" fill="#131722" stroke="#131722" stroke-width="0.3" textLength="68.40" lengthAdjust="spacing">close)</text>
<text x="287.30" y="902.9" font-size="24" fill="#FFCDD2" stroke="#FFCDD2" stroke-width="0.3" textLength="76.70" lengthAdjust="spacing">−36.21</text>
<text x="378.20" y="902.9" font-size="24" fill="#2962FF" stroke="#2962FF" stroke-width="0.3" textLength="57.10" lengthAdjust="spacing">27.21</text>
<text x="449.10" y="902.9" font-size="24" fill="#FF6D00" stroke="#FF6D00" stroke-width="0.3" textLength="65.90" lengthAdjust="spacing">63.42</text>
<text x="1939.00" y="178" font-size="24" fill="#131722" stroke="#131722" stroke-width="0.3" textLength="103.50" lengthAdjust="spacing">4,800.00</text>
<text x="1939.00" y="270.8" font-size="24" fill="#131722" stroke="#131722" stroke-width="0.3" textLength="103.50" lengthAdjust="spacing">4,400.00</text>
<text x="1939.00" y="363.5" font-size="24" fill="#131722" stroke="#131722" stroke-width="0.3" textLength="103.50" lengthAdjust="spacing">4,000.00</text>
<text x="1938.50" y="456.2" font-size="24" fill="#131722" stroke="#131722" stroke-width="0.3" textLength="104.00" lengthAdjust="spacing">3,600.00</text>
<text x="1938.50" y="549" font-size="24" fill="#131722" stroke="#131722" stroke-width="0.3" textLength="104.00" lengthAdjust="spacing">3,200.00</text>
<text x="1938.50" y="642" font-size="24" fill="#131722" stroke="#131722" stroke-width="0.3" textLength="104.00" lengthAdjust="spacing">2,800.00</text>
<text x="1938.50" y="734.8" font-size="24" fill="#131722" stroke="#131722" stroke-width="0.3" textLength="104.00" lengthAdjust="spacing">2,400.00</text>
<text x="1938.50" y="827.2" font-size="24" fill="#131722" stroke="#131722" stroke-width="0.3" textLength="104.00" lengthAdjust="spacing">2,000.00</text>
<text x="1938.60" y="959.3" font-size="24" fill="#131722" stroke="#131722" stroke-width="0.3" textLength="81.30" lengthAdjust="spacing">200.00</text>
<path d="M1922 263H2050a4 4 0 0 1 4 4V321a4 4 0 0 1-4 4H1922Z" fill="#089981"/>
<path d="M1922 991H2013a3 3 0 0 1 3 3V1022a3 3 0 0 1-3 3H1922Z" fill="#FF6D00"/>
<path d="M1922 1025H2013a3 3 0 0 1 3 3V1056a3 3 0 0 1-3 3H1922Z" fill="#2962FF"/>
<path d="M1922 1059H2029a3 3 0 0 1 3 3V1090a3 3 0 0 1-3 3H1922Z" fill="#FFCDD2"/>
<rect x="1928" y="61.5" width="128" height="53" rx="8" fill="#fff" stroke="#EEEFF1" stroke-width="1.5"/>
<text x="1938.80" y="287.1" font-size="24" fill="#fff" stroke="#fff" stroke-width="0.15" textLength="103.50" lengthAdjust="spacing">4,329.78</text>
<text x="1938.20" y="314.9" font-size="24" fill="#fff" stroke="#fff" stroke-width="0.15" textLength="104.00" lengthAdjust="spacing" fill-opacity="0.72">12:04:45</text>
<text x="1937.00" y="1016" font-size="24" fill="#fff" stroke="#fff" stroke-width="0.15" textLength="68.00" lengthAdjust="spacing">63.42</text>
<text x="1937.50" y="1050.7" font-size="24" fill="#fff" stroke="#fff" stroke-width="0.15" textLength="67.50" lengthAdjust="spacing">27.21</text>
<text x="1938.00" y="1083.7" font-size="24" fill="#131722" stroke="#131722" stroke-width="0.3" textLength="81.00" lengthAdjust="spacing">−36.21</text>
<text x="1944.70" y="95.2" font-size="24" fill="#131722" stroke="#131722" stroke-width="0.3" textLength="65.30" lengthAdjust="spacing">USDT</text>
<text x="20.30" y="39.8" font-size="24" fill="#0A0A0F" stroke="#0A0A0F" stroke-width="0.3" textLength="109.00" lengthAdjust="spacing">Owienova</text>
<text x="137.00" y="39.8" font-size="24" fill="#0A0A0F" stroke="#0A0A0F" stroke-width="0.3" textLength="85.60" lengthAdjust="spacing">created</text>
<text x="231.30" y="39.8" font-size="24" fill="#0A0A0F" stroke="#0A0A0F" stroke-width="0.3" textLength="46.10" lengthAdjust="spacing">with</text>
<text x="285.00" y="39.8" font-size="24" fill="#0A0A0F" stroke="#0A0A0F" stroke-width="0.3" textLength="199.80" lengthAdjust="spacing">TradingView.com,</text>
<text x="490.50" y="39.8" font-size="24" fill="#0A0A0F" stroke="#0A0A0F" stroke-width="0.3" textLength="42.70" lengthAdjust="spacing">Sep</text>
<text x="542.60" y="39.8" font-size="24" fill="#0A0A0F" stroke="#0A0A0F" stroke-width="0.3" textLength="30.90" lengthAdjust="spacing">10,</text>
<text x="580.70" y="39.8" font-size="24" fill="#0A0A0F" stroke="#0A0A0F" stroke-width="0.3" textLength="57.30" lengthAdjust="spacing">2025</text>
<text x="646.70" y="39.8" font-size="24" fill="#0A0A0F" stroke="#0A0A0F" stroke-width="0.3" textLength="57.80" lengthAdjust="spacing">11:55</text>
<text x="713.30" y="39.8" font-size="24" fill="#0A0A0F" stroke="#0A0A0F" stroke-width="0.3" textLength="48.60" lengthAdjust="spacing">UTC</text>
<text x="290.30" y="1154" font-size="24" fill="#131722" font-weight="bold" textLength="44.50" lengthAdjust="spacing">Jun</text>
<text x="97.80" y="1245.7" font-size="43" fill="#0F0F0F" font-weight="bold" textLength="242.20" lengthAdjust="spacing">TradingView</text>
<text x="745" y="1154" font-size="24" font-weight="bold" fill="#131722" text-anchor="middle">Jul</text>
<text x="1192" y="1154" font-size="24" font-weight="bold" fill="#131722" text-anchor="middle">Aug</text>
<text x="1639" y="1154" font-size="24" font-weight="bold" fill="#131722" text-anchor="middle">Sep</text>
<g fill="#0F0F0F"><path d="M24 1216.3H48.3V1245.7H36V1227.9H24Z"/><circle cx="58" cy="1222" r="6"/><path d="M69.2 1216.3H84L72.5 1245.7H58.3Z"/>
</g>
</svg></body></html>
